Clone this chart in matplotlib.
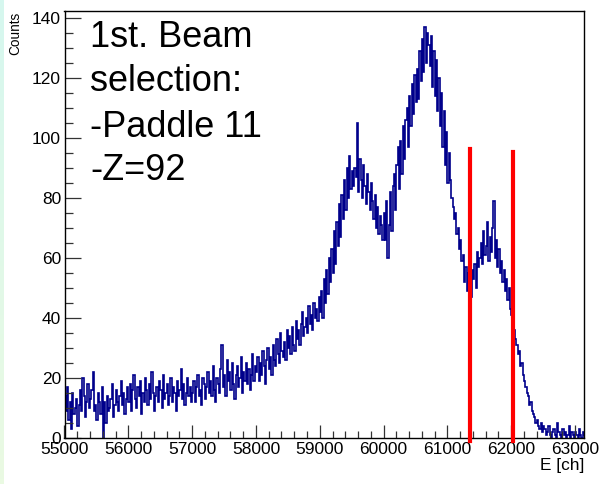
import numpy as np
import matplotlib

matplotlib.use("Agg")
import matplotlib.pyplot as plt
from matplotlib.ticker import MultipleLocator

plt.rcParams["font.family"] = ["Liberation Sans", "DejaVu Sans"]

# histogram: 20-channel bins starting at 55000
bin_start = 55000
bin_width = 20
counts = [
    # 55000 - 56000
    14, 9, 17, 6, 12, 3, 15, 8, 10, 13, 4, 11, 16, 9, 20, 14, 7, 12, 18, 10,
    13, 16, 22, 9, 11, 6, 15, 12, 8, 17, 0, 12, 5, 14, 9, 10, 13, 18, 7, 11,
    16, 12, 9, 14, 19, 11, 15, 8, 13, 17,
    # 56000 - 57000
    12, 18, 9, 16, 21, 13, 10, 17, 14, 19, 8, 15, 12, 20, 16, 11, 18, 13, 22, 15,
    9, 14, 17, 12, 19, 16, 10, 21, 13, 15, 18, 11, 14, 20, 12, 17, 15, 9, 19, 14,
    16, 23, 13, 18, 11, 15, 20, 14, 17, 12,
    # 57000 - 58000
    15, 19, 12, 17, 21, 14, 16, 11, 20, 18, 13, 17, 22, 15, 19, 14, 24, 16, 12, 20,
    18, 15, 23, 31, 17, 21, 14, 26, 19, 22, 16, 25, 18, 13, 21, 24, 17, 20, 27, 15,
    22, 19, 25, 18, 23, 16, 21, 28, 19, 24,
    # 58000 - 59000
    22, 27, 19, 25, 21, 29, 24, 18, 26, 30, 23, 27, 21, 31, 26, 24, 33, 28, 25, 35,
    29, 27, 32, 26, 36, 30, 34, 28, 37, 31, 29, 39, 33, 36, 31, 38, 42, 34, 37, 40,
    35, 44, 38, 41, 36, 45, 40, 43, 39, 47,
    # 59000 - 59520
    42, 49, 40, 53, 45, 56, 48, 60, 52, 63, 55, 69, 58, 72, 64, 78, 67, 81, 73, 86,
    76, 90, 80, 94, 83, 89,
    # 59520 - 60000
    84, 90, 87, 105, 82, 93, 86, 80, 91, 84, 78, 88, 82, 76, 85, 79, 73, 81, 70, 77,
    68, 74, 71, 66,
    # 60000 - 60520
    75, 66, 79, 60, 71, 82, 69, 84, 88, 76, 91, 97, 83, 99, 88, 104, 93, 106, 110, 97,
    114, 104, 118, 108, 121, 112,
    # 60520 - 61040
    123, 113, 129, 119, 133, 122, 137, 125, 135, 131, 124, 134, 117, 129, 114, 126, 109, 120, 104, 115,
    97, 109, 91, 102, 85, 95,
    # 61040 - 61520
    86, 80, 77, 73, 75, 68, 70, 63, 66, 59, 61, 52, 57, 49, 55, 51, 47, 56, 53, 58,
    50, 62, 57, 60,
    # 61520 - 62040
    65, 58, 69, 61, 64, 72, 59, 67, 62, 70, 79, 60, 66, 57, 63, 55, 59, 52, 56, 49,
    53, 46, 50, 43, 41, 38,
    # 62040 - 63160
    36, 33, 31, 28, 29, 24, 25, 21, 19, 17, 15, 14, 11, 12, 9, 8, 7, 5, 6, 4,
    3, 5, 2, 4, 3, 1, 2, 4, 1, 0, 2, 3, 1, 0, 5, 2, 1, 0, 3, 1,
    2, 0, 1, 4, 0, 2, 1, 0, 2, 1, 0, 3, 1, 0, 2, 1,
]

# selection cuts (channel, line top)
cut_x = [61360, 62020]
cut_top = [96.5, 95.5]

x_range = (55000, 63140)
y_range = (0, 142.5)

note_lines = ["1st. Beam", "selection:", "-Paddle 11", "-Z=92"]

W, H = 603, 484
fig = plt.figure(figsize=(W / 100, H / 100), dpi=100)

# thin slide-background strip at the left edge
strip = fig.add_axes([0, 0, 4 / W, 1])
grad = np.linspace(0, 1, 100).reshape(-1, 1)
strip.imshow(
    grad,
    aspect="auto",
    cmap=matplotlib.colors.LinearSegmentedColormap.from_list("s", ["#d6f7ef", "#eafae2"]),
)
strip.set_axis_off()

ax = fig.add_axes([64.5 / W, (H - 438.3) / H, (584 - 64.5) / W, (438.3 - 10.7) / H])

edges = bin_start + bin_width * np.arange(len(counts) + 1)
ax.stairs(counts, edges, color="#00008b", linewidth=1.2)

for x, top in zip(cut_x, cut_top):
    ax.plot([x, x], [-1, top], color="#ff0000", linewidth=3.0, clip_on=False, zorder=5)

ax.set_xlim(*x_range)
ax.set_ylim(*y_range)

ax.xaxis.set_major_locator(MultipleLocator(1000))
ax.xaxis.set_minor_locator(MultipleLocator(200))
ax.yaxis.set_major_locator(MultipleLocator(20))
ax.yaxis.set_minor_locator(MultipleLocator(5))

ax.tick_params(axis="both", which="both", direction="in", top=False, right=False,
               labelsize=12.5, width=0.9, color="#333333")
ax.tick_params(axis="x", which="major", length=9.5, pad=3)
ax.tick_params(axis="x", which="minor", length=5)
ax.tick_params(axis="y", which="major", length=11.3, pad=2.5)
ax.tick_params(axis="y", which="minor", length=5.8)

for s in ax.spines.values():
    s.set_linewidth(1.0)

fig.text(15 / W, 1 - 12 / H, "Counts", rotation=90, ha="center", va="top", fontsize=9.8)
fig.text(584 / W, 1 - 458 / H, "E [ch]", ha="right", va="top", fontsize=12.4)

baselines = [46.7, 91.0, 136.7, 180.0]
for line, yb in zip(note_lines, baselines):
    fig.text(90 / W, 1 - yb / H, line, ha="left", va="baseline", fontsize=26)

fig.savefig("out.png", dpi=100)
